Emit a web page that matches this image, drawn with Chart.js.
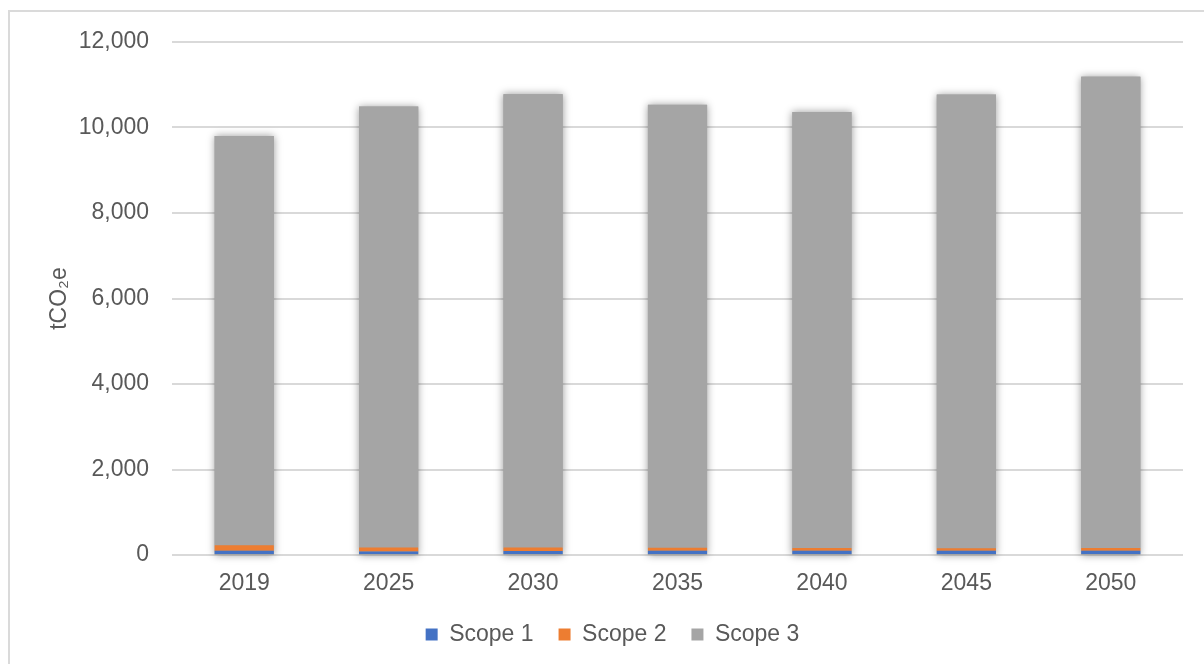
<!DOCTYPE html>
<html>
<head>
<meta charset="utf-8">
<script src="https://cdn.jsdelivr.net/npm/chart.js@4.4.1/dist/chart.umd.min.js"></script>
<style>
  html, body { margin: 0; padding: 0; background: #fff; }
  #wrap { position: relative; width: 1204px; height: 664px; overflow: hidden; }
  #frame { position: absolute; left: 8px; top: 10px; width: 1300px; height: 800px;
           border: 2px solid #dadada; box-sizing: border-box; pointer-events: none; }
  canvas { position: absolute; left: 0; top: 0; }
</style>
</head>
<body>
<div id="wrap">
  <canvas id="c" width="1204" height="664"></canvas>
  <div id="frame"></div>
</div>
<script>
// Emissions by scope, tCO2e
const years = ['2019', '2025', '2030', '2035', '2040', '2045', '2050'];
const scope1 = [100, 80, 95, 100, 100, 100, 100];
const scope2 = [130, 95, 80, 70, 65, 60, 65];
const scope3 = [9570, 10315, 10605, 10360, 10195, 10610, 11025];
const yTicks = [0, 2000, 4000, 6000, 8000, 10000, 12000];

const FONT = '"Liberation Sans", Arial, sans-serif';
const TEXT = '#595959';

// Soft shadow behind each full stacked column
const columnShadow = {
  id: 'columnShadow',
  beforeDatasetsDraw(chart) {
    const { ctx, scales } = chart;
    const top = chart.getDatasetMeta(chart.data.datasets.length - 1);
    const base = scales.y.getPixelForValue(0);
    ctx.save();
    ctx.shadowColor = 'rgba(0,0,0,0.4)';
    ctx.shadowBlur = 8;
    ctx.fillStyle = '#a5a5a5';
    top.data.forEach(bar => {
      const w = bar.width;
      ctx.fillRect(bar.x - w / 2, bar.y, w, base - bar.y);
    });
    ctx.restore();
  }
};

new Chart(document.getElementById('c'), {
  type: 'bar',
  data: {
    labels: years,
    datasets: [
      { label: 'Scope 1', data: scope1, backgroundColor: '#4472C4' },
      { label: 'Scope 2', data: scope2, backgroundColor: '#ED7D31' },
      { label: 'Scope 3', data: scope3, backgroundColor: '#A5A5A5' }
    ]
  },
  options: {
    responsive: false,
    animation: false,
    devicePixelRatio: 1,
    layout: { padding: { left: 42, right: 21, top: 42, bottom: 8 } },
    datasets: { bar: { categoryPercentage: 1, barPercentage: 0.41, borderWidth: 0 } },
    scales: {
      x: {
        stacked: true,
        afterFit(scale) { scale.height = 43; },
        grid: { display: false, drawTicks: false },
        border: { display: false },
        ticks: { color: TEXT, font: { family: FONT, size: 23 }, padding: 15 }
      },
      y: {
        stacked: true,
        min: 0,
        max: 12000,
        afterBuildTicks(scale) { scale.ticks = yTicks.map(v => ({ value: v })); },
        afterFit(scale) { scale.width = 130; },
        grid: { color: '#d9d9d9', lineWidth: 2, drawTicks: false },
        border: { display: false },
        ticks: {
          color: TEXT,
          font: { family: FONT, size: 23 },
          padding: 23,
          callback: v => v.toLocaleString('en-US')
        },
        title: {
          display: true,
          text: 'tCO₂e',
          color: TEXT,
          font: { family: FONT, size: 23 },
          padding: { top: 4, bottom: 4 }
        }
      }
    },
    plugins: {
      legend: {
        position: 'bottom',
        labels: {
          color: TEXT,
          font: { family: FONT, size: 23 },
          boxWidth: 12,
          boxHeight: 12,
          padding: 25
        }
      },
      tooltip: { enabled: false }
    }
  },
  plugins: [columnShadow]
});
</script>
</body>
</html>
